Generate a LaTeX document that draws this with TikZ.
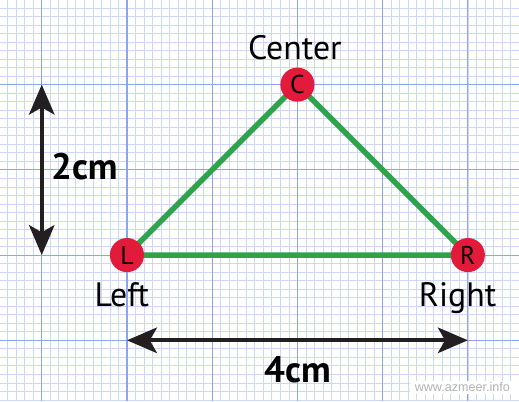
\documentclass[tikz,border=0pt]{standalone}
\usepackage{fontspec}
\setmainfont{PT Sans}
\newfontfamily\wmfont{Liberation Sans}
\usetikzlibrary{arrows.meta}
\definecolor{gridminor}{HTML}{CDD7F9}
\definecolor{gridmajor}{HTML}{8FA4F0}
\definecolor{dotred}{HTML}{E31B3B}
\definecolor{edgegreen}{HTML}{2DA44A}
\definecolor{arrowdark}{HTML}{231F20}
\tikzset{
  vertexdot/.style={circle, fill=dotred, minimum size=0.4cm, inner sep=0pt, font=\fontsize{8.6}{9}\selectfont},
  edgeline/.style={line width=1.8pt, draw=edgegreen},
  dimarrow/.style={line width=1.3pt, draw=arrowdark, {Stealth[length=10pt,width=8.5pt,inset=2.4pt]}-{Stealth[length=10pt,width=8.5pt,inset=2.4pt]}},
  vlabel/.style={anchor=base, font=\fontsize{11.3}{12}\selectfont},
  dimlabel/.style={anchor=base, font=\fontsize{12.3}{14}\selectfont\bfseries},
}
\begin{document}
\begin{tikzpicture}
\useasboundingbox (-1.49,-1.714) rectangle (4.6,2.993);
\fill[white] (-1.49,-1.714) rectangle (4.6,2.993);
\draw[gridminor, line width=0.25pt] (-1.49,-1.714) grid[step=0.1] (4.6,2.993);
\draw[gridmajor, line width=0.35pt] (-1.49,-1.714) grid[step=1] (4.6,2.993);
% triangle
\coordinate (Lc) at (0,0);
\coordinate (Rc) at (4,0);
\coordinate (Cc) at (2,2);
\draw[edgeline] (Lc) -- (Cc) -- (Rc) -- (Lc);
\node[vertexdot] (L) at (Lc) {L};
\node[vertexdot] (R) at (Rc) {R};
\node[vertexdot] (C) at (Cc) {C};
\node[vlabel] (centerlbl) at (1.97,2.30) {Center};
\node[vlabel] (leftlbl) at (-0.06,-0.60) {Left};
\node[vlabel] (rightlbl) at (3.88,-0.60) {Right};
% dimensions
\coordinate (vtop) at (-1,2);
\coordinate (vbot) at (-1,0);
\draw[dimarrow] (vbot) -- (vtop);
\coordinate (hl) at (0,-1);
\coordinate (hr) at (4,-1);
\draw[dimarrow] (hl) -- (hr);
\node[dimlabel] (twocm) at (-0.50,0.89) {2cm};
\node[dimlabel] (fourcm) at (2.0,-1.50) {4cm};
% watermark
\fill[white] (3.32,-1.625) rectangle (4.6,-1.475);
\node[anchor=base east, inner sep=0pt, text=black!30, font=\wmfont\fontsize{4.2}{5}\selectfont] (wm) at (4.50,-1.60) {www.azmeer.info};
\end{tikzpicture}
\end{document}
